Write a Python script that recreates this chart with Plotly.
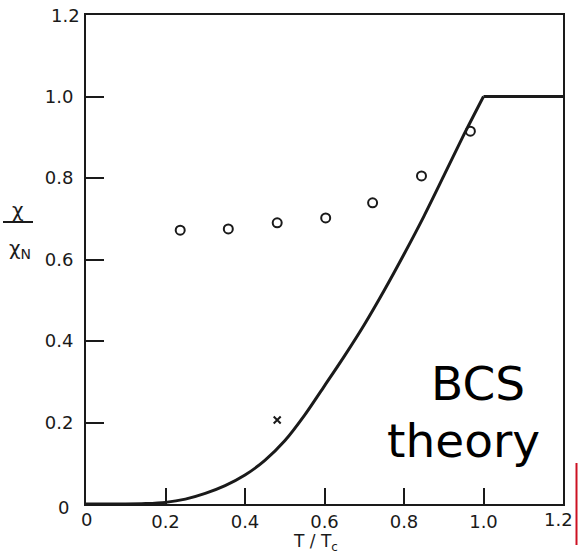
import plotly.graph_objects as go

# BCS theory curve
bcs_t = [0.0, 0.10, 0.15, 0.20, 0.25, 0.30, 0.35, 0.40, 0.45, 0.50, 0.55, 0.60, 0.65, 0.70, 0.75, 0.80, 0.85, 0.90, 0.95, 1.00]
bcs_chi = [0.0, 0.0, 0.001, 0.004, 0.012, 0.026, 0.045, 0.071, 0.107, 0.155, 0.218, 0.290, 0.363, 0.440, 0.524, 0.613, 0.706, 0.805, 0.905, 1.00]
normal_t = [1.00, 1.20]
normal_chi = [1.00, 1.00]

# measured points (open circles)
meas_t = [0.237, 0.358, 0.481, 0.603, 0.721, 0.844, 0.967]
meas_chi = [0.672, 0.675, 0.690, 0.702, 0.739, 0.805, 0.915]

# single cross point
cross_t = [0.481]
cross_chi = [0.206]

x_ticks = [0.2, 0.4, 0.6, 0.8, 1.0]
x_ticklabels = ["0.2", "0.4", "0.6", "0.8", "1.0"]
y_ticks = [0.2, 0.4, 0.6, 0.8, 1.0]
y_ticklabels = ["0.2", "0.4", "0.6", "0.8", "1.0"]

ink = "#1a1a1a"
font_fam = "DejaVu Sans"
tick_size = 18

# plot area in pixels
L, R, T, B = 86, 15, 15, 50
W, H = 578, 554
PW, PH = W - L - R, H - T - B


def px(xp):
    return (xp - L) / PW


def py(yp):
    return (H - B - yp) / PH


fig = go.Figure()
fig.add_trace(go.Scatter(x=bcs_t, y=bcs_chi, mode="lines",
                         line=dict(color=ink, width=3, shape="spline", smoothing=0.8),
                         showlegend=False))
fig.add_trace(go.Scatter(x=normal_t, y=normal_chi, mode="lines",
                         line=dict(color=ink, width=3), showlegend=False))
fig.add_trace(go.Scatter(x=meas_t, y=meas_chi, mode="markers",
                         marker=dict(symbol="circle-open", size=9,
                                     line=dict(color=ink, width=2), color=ink),
                         showlegend=False))
fig.add_trace(go.Scatter(x=cross_t, y=cross_chi, mode="markers",
                         marker=dict(symbol="x-thin-open", size=7,
                                     line=dict(color=ink, width=2), color=ink),
                         showlegend=False))

fig.update_layout(
    width=W, height=H,
    margin=dict(l=L, r=R, t=T, b=B),
    plot_bgcolor="white", paper_bgcolor="white",
    font=dict(family=font_fam, color=ink, size=tick_size),
    xaxis=dict(range=[0, 1.2], showline=True, linecolor=ink, linewidth=2,
               mirror=True, showgrid=False, zeroline=False,
               ticks="inside", ticklen=16, tickwidth=2, tickcolor=ink,
               tickvals=x_ticks, ticktext=x_ticklabels, ticklabelstandoff=0,
               tickfont=dict(size=tick_size, family=font_fam, color=ink)),
    yaxis=dict(range=[0, 1.2], showline=True, linecolor=ink, linewidth=2,
               mirror=True, showgrid=False, zeroline=False,
               ticks="inside", ticklen=18, tickwidth=2, tickcolor=ink,
               tickvals=y_ticks, ticktext=y_ticklabels, ticklabelstandoff=7,
               tickfont=dict(size=tick_size, family=font_fam, color=ink)),
)

tf = dict(size=tick_size, family=font_fam, color=ink)
# corner labels
fig.add_annotation(x=px(71), y=py(507), xref="paper", yref="paper", text="0",
                   showarrow=False, xanchor="right", yanchor="middle", font=tf)
fig.add_annotation(x=px(86), y=py(519), xref="paper", yref="paper", text="0",
                   showarrow=False, xanchor="center", yanchor="middle", font=tf)
fig.add_annotation(x=px(558), y=py(519), xref="paper", yref="paper", text="1.2",
                   showarrow=False, xanchor="center", yanchor="middle", font=tf)
fig.add_annotation(x=px(82), y=py(15), xref="paper", yref="paper", text="1.2",
                   showarrow=False, xanchor="right", yanchor="middle", font=tf)

# x axis title
fig.add_annotation(x=px(315), y=py(542), xref="paper", yref="paper",
                   text="T / T<sub>c</sub>", showarrow=False,
                   xanchor="center", yanchor="middle",
                   font=dict(size=17, family=font_fam, color=ink))

# y axis title as a fraction
fig.add_annotation(x=px(18), y=py(210), xref="paper", yref="paper", text="χ",
                   showarrow=False, xanchor="center", yanchor="middle",
                   font=dict(size=20, family=font_fam, color=ink))
fig.add_shape(type="line", xref="paper", yref="paper",
              x0=px(3), x1=px(33), y0=py(222), y1=py(222),
              line=dict(color=ink, width=2))
fig.add_annotation(x=px(20), y=py(249), xref="paper", yref="paper",
                   text="χ<sub>N</sub>", showarrow=False,
                   xanchor="center", yanchor="middle",
                   font=dict(size=20, family=font_fam, color=ink))

# BCS theory label
fig.add_annotation(x=px(478), y=py(383), xref="paper", yref="paper",
                   text="BCS", showarrow=False, xanchor="center", yanchor="middle",
                   font=dict(size=47, family=font_fam, color="black"))
fig.add_annotation(x=px(463), y=py(440), xref="paper", yref="paper",
                   text="theory", showarrow=False, xanchor="center", yanchor="middle",
                   font=dict(size=47, family=font_fam, color="black"))

# red edge line at right
fig.add_shape(type="line", xref="paper", yref="paper",
              x0=px(576.5), x1=px(576.5), y0=py(463), y1=py(545),
              line=dict(color="#cc1122", width=2))

fig.write_html("out.html")
